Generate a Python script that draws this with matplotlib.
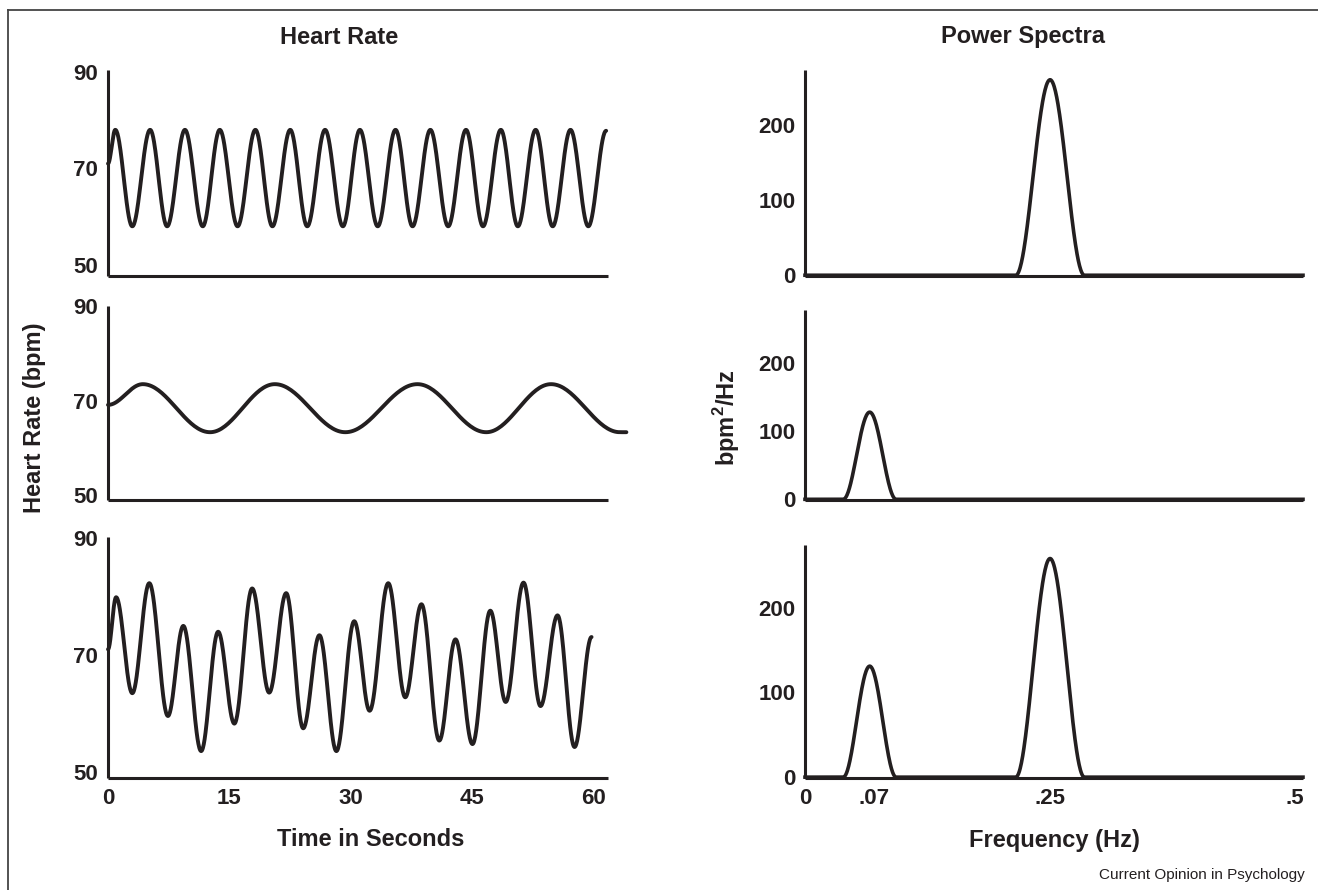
import numpy as np
import matplotlib
matplotlib.use('Agg')
import matplotlib.pyplot as plt
from matplotlib.lines import Line2D

plt.rcParams['font.family'] = ['Liberation Sans', 'DejaVu Sans']
plt.rcParams['mathtext.fontset'] = 'custom'
plt.rcParams['mathtext.rm'] = 'Liberation Sans'
plt.rcParams['mathtext.bf'] = 'Liberation Sans:bold'

INK = '#231f20'
W, H = 1318, 890

# heart rate traces: turning points (seconds, bpm)
hr_fast_t = [0, 0.9, 3.0, 5.2, 7.3, 9.5, 11.7, 13.8, 16.0, 18.2, 20.3, 22.5, 24.6, 26.8, 29.0,
             31.1, 33.3, 35.5, 37.6, 39.8, 42.0, 44.2, 46.3, 48.5, 50.6, 52.8, 54.9, 57.1, 59.3, 61.5]
hr_fast_v = [71, 78, 58, 78, 58, 78, 58, 78, 58, 78, 58, 78, 58, 78, 58,
             78, 58, 78, 58, 78, 58, 78, 58, 78, 58, 78, 58, 78, 58, 77.8]

hr_slow_t = [0, 4.3, 12.6, 20.6, 29.3, 38.2, 46.7, 54.7, 63.2, 64.0]
hr_slow_v = [69.1, 73.5, 63.3, 73.5, 63.3, 73.5, 63.3, 73.5, 63.3, 63.3]

hr_mix_t = [0, 1.0, 3.0, 5.1, 7.4, 9.3, 11.5, 13.6, 15.6, 17.8, 19.9, 22.0, 24.1, 26.1, 28.2,
            30.4, 32.3, 34.6, 36.7, 38.7, 40.9, 42.9, 45.0, 47.2, 49.1, 51.3, 53.4, 55.5, 57.6, 59.7]
hr_mix_v = [71, 79.9, 63.5, 82.3, 59.6, 75.0, 53.6, 74.0, 58.3, 81.4, 63.6, 80.6, 57.5, 73.4, 53.6,
            75.8, 60.5, 82.3, 62.8, 78.7, 55.4, 72.7, 54.8, 77.6, 62.0, 82.4, 61.3, 76.8, 54.3, 73.1]

# power spectra peaks: centre (Hz), height (bpm^2/Hz), half width at base (Hz)
psd_fast_f, psd_fast_h, psd_fast_w = [0.25], [260], [0.035]
psd_slow_f, psd_slow_h, psd_slow_w = [0.066], [128], [0.027]
psd_mix_f, psd_mix_h, psd_mix_w = [0.066, 0.25], [131, 258], [0.027, 0.035]

hr_yticks = [50, 70, 90]
time_ticks = [0, 15, 30, 45, 60]
psd_yticks = [0, 100, 200]
freq_ticks = [0, 0.07, 0.25, 0.5]
freq_labels = ['0', '.07', '.25', '.5']


def rect(x0, y0, x1, y1):
    return [x0 / W, 1 - y1 / H, (x1 - x0) / W, (y1 - y0) / H]


def smooth_trace(t, v, n=40):
    # join the turning points with half-cosine segments
    xs, ys = [], []
    for i in range(len(t) - 1):
        s = np.linspace(0, 1, n)
        xs.append(t[i] + (t[i + 1] - t[i]) * s)
        ys.append(v[i] + (v[i + 1] - v[i]) * (1 - np.cos(np.pi * s)) / 2)
    return np.concatenate(xs), np.concatenate(ys)


def spectrum(f, h, w, grid):
    y = np.zeros_like(grid)
    for fc, hc, wc in zip(f, h, w):
        d = np.abs(grid - fc)
        y += np.where(d < wc, hc * np.cos(np.pi * d / (2 * wc)) ** 2, 0)
    return y


def style(ax):
    for s in ['top', 'right']:
        ax.spines[s].set_visible(False)
    for s in ['left', 'bottom']:
        ax.spines[s].set_linewidth(2.2)
        ax.spines[s].set_color(INK)
        ax.spines[s].set_capstyle('butt')
    ax.tick_params(length=0, labelsize=16, colors=INK, pad=7)
    for lab in ax.get_yticklabels() + ax.get_xticklabels():
        lab.set_fontweight('bold')


fig = plt.figure(figsize=(W / 100, H / 100), dpi=100)

# left column: heart rate
left_rects = [rect(108, 70, 608, 276), rect(108, 306, 608, 500), rect(108, 537, 608, 778)]
left_ylims = [(47.7, 90.4), (48.9, 90.1), (49.0, 90.2)]
traces = [(hr_fast_t, hr_fast_v), (hr_slow_t, hr_slow_v), (hr_mix_t, hr_mix_v)]
for i, (r, yl, (t, v)) in enumerate(zip(left_rects, left_ylims, traces)):
    ax = fig.add_axes(r)
    x, y = smooth_trace(t, v)
    ax.plot(x, y, color=INK, lw=2.8, clip_on=False, solid_capstyle='round')
    ax.set_xlim(0, 61.73)
    ax.set_ylim(*yl)
    ax.set_yticks(hr_yticks)
    if i == 2:
        ax.set_xticks(time_ticks)
    else:
        ax.set_xticks([])
    style(ax)

# right column: power spectra
grid = np.linspace(0, 0.508, 1200)
right_rects = [rect(805, 70, 1303, 276), rect(805, 310, 1303, 500), rect(805, 545, 1303, 778)]
right_ylims = [(-1, 273), (-1, 278), (-1, 274)]
spectra = [(psd_fast_f, psd_fast_h, psd_fast_w), (psd_slow_f, psd_slow_h, psd_slow_w),
           (psd_mix_f, psd_mix_h, psd_mix_w)]
for i, (r, yl, (f, h, w)) in enumerate(zip(right_rects, right_ylims, spectra)):
    ax = fig.add_axes(r)
    ax.plot(grid, spectrum(f, h, w, grid), color=INK, lw=2.6, clip_on=False)
    ax.set_xlim(0, 0.508)
    ax.set_ylim(*yl)
    ax.set_yticks(psd_yticks)
    if i == 2:
        ax.set_xticks(freq_ticks)
        ax.set_xticklabels(freq_labels)
    else:
        ax.set_xticks([])
    style(ax)


def ftext(x, y, s, **kw):
    fig.text(x / W, 1 - y / H, s, color=INK, **kw)


ftext(339, 37, 'Heart Rate', ha='center', va='center', fontsize=17, fontweight='bold')
ftext(1023, 37, 'Power Spectra', ha='center', va='center', fontsize=17, fontweight='bold')
ftext(371, 840, 'Time in Seconds', ha='center', va='center', fontsize=17, fontweight='bold')
ftext(1054, 840, 'Frequency (Hz)', ha='center', va='center', fontsize=17, fontweight='bold')
ftext(35, 418, 'Heart Rate (bpm)', ha='center', va='center', rotation=90, fontsize=17, fontweight='bold')
ftext(727, 418, r'bpm$^{\mathbf{2}}$/Hz', ha='center', va='center', rotation=90, fontsize=17, fontweight='bold')
ftext(1305, 875, 'Current Opinion in Psychology', ha='right', va='center', fontsize=11)

# frame lines along the top and left edge
fig.add_artist(Line2D([8 / W, 8 / W], [0, 1 - 10 / H], color='#444444', lw=1.3, transform=fig.transFigure))
fig.add_artist(Line2D([8 / W, 1], [1 - 10 / H, 1 - 10 / H], color='#444444', lw=1.3, transform=fig.transFigure))

fig.savefig('out.png', dpi=100)
